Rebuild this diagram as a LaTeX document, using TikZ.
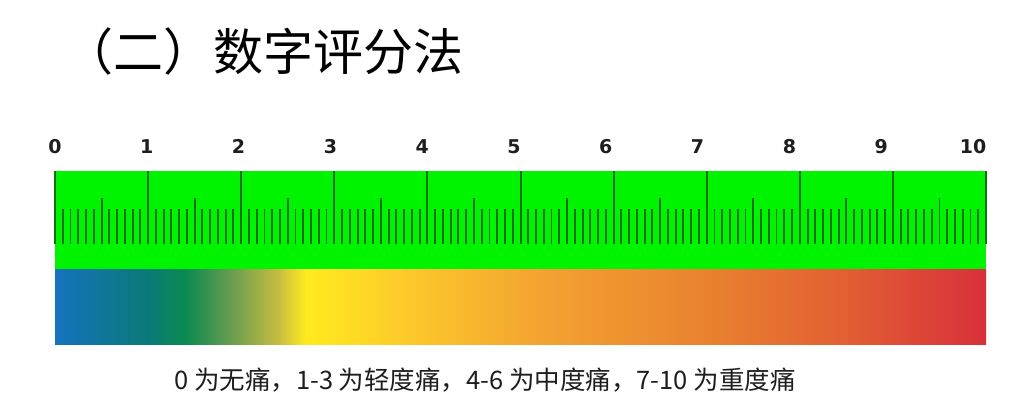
\documentclass[tikz,border=0pt]{standalone}
\usepackage{fontspec}
\usepackage{xcolor}
\usetikzlibrary{positioning}
\newfontfamily\cjk{Noto Sans CJK SC}
\newfontfamily\numfont{DejaVu Sans}
\definecolor{rulergreen}{HTML}{00F400}
\definecolor{tickgreen}{HTML}{0E7014}
\definecolor{ink}{HTML}{1E1E1E}
\definecolor{pblue}{HTML}{1572BE}
\definecolor{pteal}{HTML}{0A7A78}
\definecolor{pgreen}{HTML}{0A8A50}
\definecolor{polive}{HTML}{6A9E50}
\definecolor{pkhaki}{HTML}{C8BC40}
\definecolor{pyellow}{HTML}{FFEB1E}
\definecolor{pgold}{HTML}{FDCB2A}
\definecolor{porange}{HTML}{F3A331}
\definecolor{pdeep}{HTML}{E9822F}
\definecolor{pvermil}{HTML}{E25E33}
\definecolor{pred}{HTML}{D8303A}
% stops between 25bp and 75bp fill the bar
\pgfdeclarehorizontalshading{painscale}{100bp}{color(0bp)=(pblue); color(25bp)=(pblue);
  color(30bp)=(pteal); color(32bp)=(pgreen); color(34.5bp)=(polive);
  color(37bp)=(pkhaki); color(38.5bp)=(pyellow); color(43.5bp)=(pgold);
  color(51bp)=(porange); color(60bp)=(pdeep); color(67.5bp)=(pvermil);
  color(75bp)=(pred); color(100bp)=(pred)}
\tikzset{
    majortick/.style={draw=tickgreen,line width=2pt},
    minortick/.style={draw=tickgreen,line width=1.9pt},
    scalenum/.style={font=\numfont\bfseries\fontsize{19}{19}\selectfont,
      text=ink,inner sep=0pt,anchor=base},
    titletext/.style={font=\cjk\fontsize{50}{50}\selectfont,text=black,
      inner sep=0pt,anchor=west},
    notetext/.style={font=\cjk\fontsize{25.5}{25.5}\selectfont,text=ink,inner sep=0pt}
}
\begin{document}
\begin{tikzpicture}[x=1pt,y=1pt]
  \useasboundingbox (0,0) rectangle (1018,403);
  \node[titletext] (title) at (63,351) {（二）数字评分法};
  % ruler and colour bar
  \fill[rulergreen] (55,133) rectangle (986,232);
  \shade[shading=painscale] (55,58) rectangle (986,133);
  \foreach \k in {0,...,120}{
    \draw[minortick] (55+7.7583*\k,159) -- (55+7.7583*\k,194);}
  \foreach \i in {0,...,9}{
    \draw[minortick] (55+93.1*\i+46.55,159) -- (55+93.1*\i+46.55,205);}
  \foreach \i in {0,...,10}{
    \draw[majortick] (55+93.1*\i,159) -- (55+93.1*\i,232);
    \node[scalenum] (n\i) at (55+91.8*\i,249) {\i};}
  \node[notetext] (note) at (485,23) {0 为无痛，1-3 为轻度痛，4-6 为中度痛，7-10 为重度痛};
\end{tikzpicture}
\end{document}
